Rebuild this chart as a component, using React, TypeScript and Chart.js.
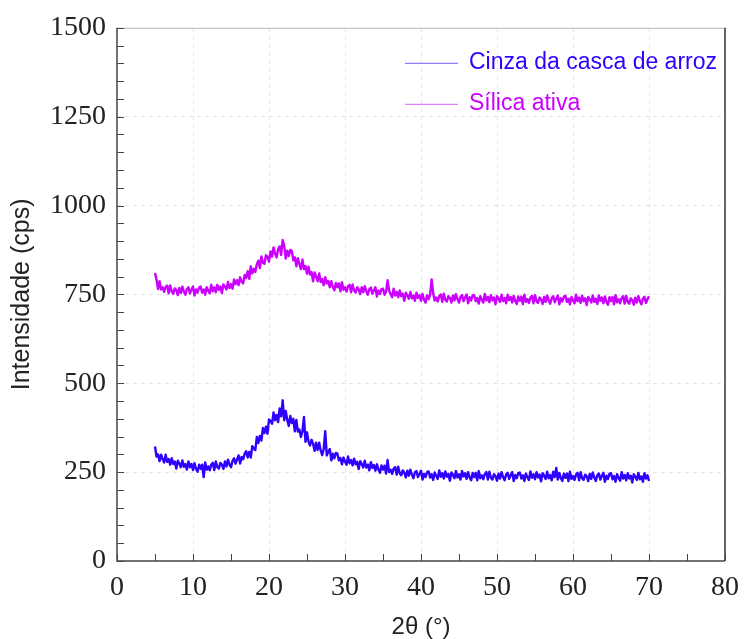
import React, { useEffect, useRef } from "react";
import { Chart, registerables } from "chart.js";

Chart.register(...registerables);

// 2θ sampling of the scans
const X_START = 5;
const X_STEP = 0.2;

const seriesNames = ["Cinza da casca de arroz", "Sílica ativa"];
const seriesColors = ["#2f00ff", "#cc00ff"];
const legendLineColors = ["#8f80ff", "#e680ff"];

const xTicks = [0, 10, 20, 30, 40, 50, 60, 70, 80];
const yTicks = [0, 250, 500, 750, 1000, 1250, 1500];

// Cinza da casca de arroz (cps), 5.0° → 70.0° step 0.2°
const cinza = [
  322, 294, 300, 281, 299, 287, 277, 299, 279, 287,
  271, 289, 273, 280, 260, 282, 274, 264, 283, 265,
  273, 257, 280, 264, 273, 256, 275, 259, 251, 271,
  259, 271, 236, 277, 257, 266, 255, 271, 276, 256,
  280, 264, 260, 276, 271, 259, 280, 266, 285, 271,
  264, 282, 289, 274, 286, 297, 274, 293, 286, 302,
  309, 291, 307, 291, 323, 316, 312, 349, 332, 352,
  339, 374, 360, 378, 358, 398, 394, 386, 418, 396,
  411, 391, 429, 407, 452, 396, 422, 397, 380, 408,
  388, 400, 365, 397, 364, 370, 349, 365, 405, 335,
  362, 336, 325, 341, 330, 310, 333, 312, 333, 311,
  298, 315, 365, 297, 307, 315, 283, 302, 289, 304,
  302, 283, 290, 272, 291, 280, 271, 294, 275, 284,
  269, 288, 272, 279, 259, 281, 273, 263, 282, 263,
  271, 255, 278, 262, 270, 254, 272, 257, 248, 269,
  257, 268, 246, 284, 250, 257, 245, 260, 264, 243,
  265, 247, 241, 255, 249, 235, 254, 240, 257, 243,
  233, 249, 253, 236, 245, 254, 229, 245, 236, 250,
  252, 235, 244, 228, 249, 239, 231, 255, 237, 247,
  232, 252, 237, 245, 226, 249, 242, 233, 253, 235,
  244, 229, 253, 238, 247, 231, 250, 235, 227, 248,
  236, 248, 227, 253, 233, 241, 230, 245, 250, 229,
  251, 234, 229, 244, 239, 226, 246, 232, 250, 236,
  227, 243, 248, 231, 241, 250, 225, 242, 233, 247,
  249, 232, 241, 225, 246, 236, 228, 252, 234, 244,
  230, 250, 235, 243, 224, 247, 240, 231, 251, 233,
  242, 227, 251, 236, 262, 229, 248, 233, 225, 246,
  234, 246, 225, 251, 231, 239, 228, 243, 248, 227,
  250, 233, 228, 243, 238, 225, 245, 231, 249, 235,
  225, 241, 246, 229, 239, 248, 223, 240, 231, 245,
  247, 230, 239, 223, 244, 234, 226, 250, 232, 242,
  227, 247, 232, 240, 221, 244, 237, 228, 248, 230,
  238, 223, 247, 232, 241, 225,
];

// Sílica ativa (cps), 5.0° → 70.0° step 0.2°
const silica = [
  810, 792, 765, 787, 764, 770, 757, 771, 775, 753,
  775, 758, 752, 767, 762, 748, 768, 754, 772, 758,
  749, 765, 770, 753, 763, 772, 747, 764, 755, 769,
  772, 755, 764, 749, 770, 760, 753, 777, 759, 770,
  756, 777, 763, 772, 754, 778, 772, 764, 785, 768,
  779, 766, 792, 779, 790, 776, 798, 786, 781, 805,
  796, 815, 794, 829, 809, 822, 813, 835, 845, 824,
  857, 839, 836, 860, 856, 842, 871, 856, 882, 865,
  854, 877, 885, 861, 903, 887, 851, 873, 858, 875,
  872, 846, 854, 829, 852, 835, 821, 848, 821, 830,
  808, 828, 806, 813, 787, 812, 800, 787, 809, 785,
  793, 776, 798, 781, 788, 770, 787, 771, 762, 782,
  770, 781, 759, 784, 763, 770, 758, 773, 777, 756,
  778, 761, 755, 770, 764, 751, 770, 756, 773, 759,
  749, 765, 769, 752, 761, 770, 744, 761, 751, 765,
  766, 749, 757, 790, 761, 751, 742, 766, 747, 757,
  742, 761, 745, 752, 732, 755, 747, 738, 757, 739,
  747, 732, 755, 740, 748, 732, 751, 735, 727, 748,
  737, 749, 792, 753, 733, 741, 730, 745, 750, 729,
  752, 735, 730, 745, 740, 727, 747, 733, 751, 737,
  727, 743, 748, 731, 741, 750, 725, 742, 733, 747,
  748, 731, 740, 724, 745, 735, 727, 751, 733, 743,
  728, 748, 733, 741, 722, 745, 738, 729, 749, 731,
  740, 725, 749, 734, 743, 727, 746, 731, 723, 744,
  732, 744, 723, 749, 729, 737, 726, 741, 746, 725,
  748, 731, 726, 741, 736, 723, 743, 729, 747, 733,
  724, 740, 745, 728, 738, 747, 722, 739, 730, 744,
  746, 729, 738, 722, 743, 733, 725, 749, 731, 741,
  726, 746, 731, 739, 720, 743, 736, 727, 747, 729,
  738, 723, 747, 732, 741, 725, 744, 729, 721, 742,
  731, 743, 722, 748, 728, 736, 725, 740, 745, 724,
  746, 729, 724, 739, 734, 721, 741, 727, 745, 731,
  722, 738, 743, 726, 736, 745,
];

const toPoints = (vals: number[]) =>
  vals.map((v, i) => ({ x: Math.round((X_START + i * X_STEP) * 10) / 10, y: v }));

const frame = {
  id: "frame",
  afterDatasetsDraw(chart: any) {
    const { ctx, chartArea: a, scales } = chart;
    const xs = scales.x;
    const ys = scales.y;
    ctx.save();
    ctx.strokeStyle = "#b8b8b8";
    ctx.lineWidth = 1;
    ctx.beginPath();
    ctx.moveTo(a.left, a.top + 0.5);
    ctx.lineTo(a.right, a.top + 0.5);
    ctx.stroke();
    ctx.strokeStyle = "#333";
    ctx.lineWidth = 1.5;
    ctx.beginPath();
    ctx.moveTo(a.right, a.top);
    ctx.lineTo(a.right, a.bottom);
    ctx.stroke();
    ctx.strokeStyle = "#444";
    ctx.lineWidth = 1.5;
    ctx.beginPath();
    ctx.moveTo(a.left, a.top);
    ctx.lineTo(a.left, a.bottom);
    ctx.lineTo(a.right, a.bottom);
    ctx.stroke();
    ctx.lineWidth = 1;
    ctx.strokeStyle = "#444";
    const tl = 7;
    for (let v = xs.min; v <= xs.max; v += 5) {
      const px = Math.round(xs.getPixelForValue(v)) + 0.5;
      ctx.beginPath();
      ctx.moveTo(px, a.bottom);
      ctx.lineTo(px, a.bottom - tl);
      ctx.stroke();
    }
    for (let v = ys.min; v <= ys.max; v += 50) {
      const py = Math.round(ys.getPixelForValue(v)) + 0.5;
      ctx.beginPath();
      ctx.moveTo(a.left, py);
      ctx.lineTo(a.left + tl, py);
      ctx.stroke();
    }
    ctx.restore();
  },
};

const insideLegend = {
  id: "insideLegend",
  afterDraw(chart: any) {
    const { ctx, chartArea: a } = chart;
    ctx.save();
    ctx.font = '23px "Liberation Sans", Arial, sans-serif';
    ctx.textBaseline = "middle";
    ctx.textAlign = "left";
    const x0 = a.left + 288;
    const rows = [a.top + 35, a.top + 76];
    chart.data.datasets.forEach((ds: any, i: number) => {
      const y = rows[i];
      ctx.strokeStyle = legendLineColors[i];
      ctx.lineWidth = 1.2;
      ctx.beginPath();
      ctx.moveTo(x0, y + 0.5);
      ctx.lineTo(x0 + 53, y + 0.5);
      ctx.stroke();
      ctx.fillStyle = ds.borderColor;
      ctx.fillText(ds.label, x0 + 64, y);
    });
    ctx.restore();
  },
};

export default function App() {
  const ref = useRef<HTMLCanvasElement | null>(null);
  useEffect(() => {
    if (!ref.current) return;
    const gridColor = (ctx: any, edgeVals: number[]) =>
      edgeVals.includes(ctx.tick?.value) ? "rgba(0,0,0,0)" : "#e4e4e4";
    const tickFont = { family: '"Liberation Serif", "Times New Roman", serif', size: 28 };
    const chart = new Chart(ref.current, {
      type: "line",
      data: {
        datasets: [
          {
            label: seriesNames[0],
            data: toPoints(cinza),
            borderColor: seriesColors[0],
            borderWidth: 2.4,
            borderJoinStyle: "round",
            pointRadius: 0,
            tension: 0,
          },
          {
            label: seriesNames[1],
            data: toPoints(silica),
            borderColor: seriesColors[1],
            borderWidth: 2.4,
            borderJoinStyle: "round",
            pointRadius: 0,
            tension: 0,
          },
        ],
      },
      options: {
        responsive: false,
        animation: false,
        events: [],
        layout: { padding: { top: 25, right: 17, left: 0, bottom: 0 } },
        plugins: { legend: { display: false }, tooltip: { enabled: false } },
        scales: {
          x: {
            type: "linear",
            min: 0,
            max: 80,
            afterBuildTicks: (s: any) => {
              s.ticks = xTicks.map((v) => ({ value: v }));
            },
            afterFit: (s: any) => {
              s.height = 78;
            },
            ticks: {
              font: tickFont,
              color: "#222",
              padding: 10,
              maxRotation: 0,
              autoSkip: false,
              callback: (v: any) => String(v),
            },
            grid: {
              drawTicks: false,
              color: (c: any) => gridColor(c, [0, 80]),
              lineWidth: 1,
            },
            border: { display: false, dash: [4, 4] },
            title: {
              display: true,
              text: "2θ (°)",
              color: "#222",
              font: { family: '"Liberation Sans", Arial, sans-serif', size: 24, lineHeight: 1 },
              padding: { top: 0, bottom: 0 },
            },
          },
          y: {
            type: "linear",
            min: 0,
            max: 1500,
            afterBuildTicks: (s: any) => {
              s.ticks = yTicks.map((v) => ({ value: v }));
            },
            afterFit: (s: any) => {
              s.width = 117;
            },
            ticks: {
              font: tickFont,
              color: "#222",
              padding: 11,
              autoSkip: false,
              callback: (v: any) => String(v),
            },
            grid: {
              drawTicks: false,
              color: (c: any) => gridColor(c, [0, 1500]),
              lineWidth: 1,
            },
            border: { display: false, dash: [4, 4] },
            title: {
              display: true,
              text: "Intensidade (cps)",
              color: "#222",
              font: { family: '"Liberation Sans", Arial, sans-serif', size: 25, lineHeight: 1 },
              padding: { top: 10, bottom: 0 },
            },
          },
        },
      },
      plugins: [frame, insideLegend],
    });
    return () => chart.destroy();
  }, []);
  return (
    <div style={{ position: "fixed", left: 0, top: 0, width: 749, height: 639, background: "#fff" }}>
      <canvas ref={ref} width={749} height={639} style={{ display: "block" }} />
    </div>
  );
}
